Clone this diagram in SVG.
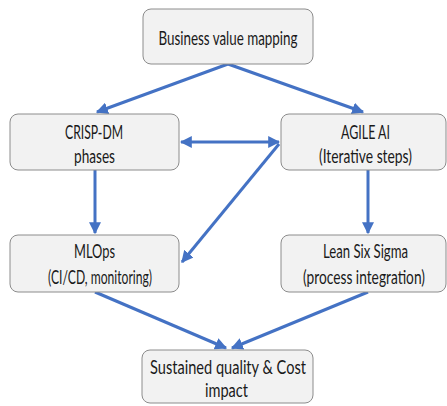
<svg xmlns="http://www.w3.org/2000/svg" width="447" height="406" viewBox="0 0 447 406">
  <defs>
    <marker id="ah" viewBox="0 0 10 10" refX="9" refY="5" markerWidth="4" markerHeight="4" orient="auto-start-reverse" markerUnits="strokeWidth">
      <path d="M0,0 L10,5 L0,10 z" fill="#4472C4"/>
    </marker>
    <style>
      .box { fill: #f2f2f2; stroke: #8c8c8c; stroke-width: 1; }
      .lbl { font-family: Lato, "Liberation Sans", sans-serif; font-size: 18.5px; fill: #1a1a1a; text-anchor: middle; }
      .edge { stroke: #4472C4; stroke-width: 3; fill: none; }
    </style>
  </defs>
  <rect width="447" height="406" fill="#ffffff"/>

  <g id="connectors">
    <path class="edge" d="M228,64 L97,112" marker-end="url(#ah)"/>
    <path class="edge" d="M228,64 L363,112" marker-end="url(#ah)"/>
    <path class="edge" d="M95,170 L95,233" marker-end="url(#ah)"/>
    <path class="edge" d="M368,170 L368,233" marker-end="url(#ah)"/>
    <path class="edge" d="M181,142 L279,142" marker-start="url(#ah)" marker-end="url(#ah)"/>
    <path class="edge" d="M279,144 L182,262" marker-end="url(#ah)"/>
    <path class="edge" d="M95,292 L226,348" marker-end="url(#ah)"/>
    <path class="edge" d="M368,292 L232,348" marker-end="url(#ah)"/>
  </g>

  <g id="business-value">
    <rect class="box" x="143" y="9" width="170" height="55" rx="8"/>
    <text class="lbl" x="228" y="45" textLength="139" lengthAdjust="spacingAndGlyphs">Business value mapping</text>
  </g>
  <g id="crisp-dm">
    <rect class="box" x="10" y="114" width="169" height="56" rx="8"/>
    <text class="lbl" x="94" y="139" textLength="58" lengthAdjust="spacingAndGlyphs">CRISP-DM</text>
    <text class="lbl" x="94.5" y="163" textLength="41" lengthAdjust="spacingAndGlyphs">phases</text>
  </g>
  <g id="agile-ai">
    <rect class="box" x="281" y="114" width="165" height="56" rx="8"/>
    <text class="lbl" x="365.5" y="139" textLength="49" lengthAdjust="spacingAndGlyphs">AGILE AI</text>
    <text class="lbl" x="365.5" y="163" textLength="93" lengthAdjust="spacingAndGlyphs">(Iterative steps)</text>
  </g>
  <g id="mlops">
    <rect class="box" x="10" y="235" width="169" height="57" rx="8"/>
    <text class="lbl" x="94.5" y="258" textLength="41" lengthAdjust="spacingAndGlyphs">MLOps</text>
    <text class="lbl" x="100" y="284" textLength="104" lengthAdjust="spacingAndGlyphs">(CI/CD, monitoring)</text>
  </g>
  <g id="lean-six-sigma">
    <rect class="box" x="281" y="235" width="165" height="57" rx="8"/>
    <text class="lbl" x="365.5" y="258" textLength="85" lengthAdjust="spacingAndGlyphs">Lean Six Sigma</text>
    <text class="lbl" x="364" y="284" textLength="122" lengthAdjust="spacingAndGlyphs">(process integration)</text>
  </g>
  <g id="sustained-quality">
    <rect class="box" x="142" y="350" width="171" height="53" rx="8"/>
    <text class="lbl" x="228" y="374" textLength="156" lengthAdjust="spacingAndGlyphs">Sustained quality &amp; Cost</text>
    <text class="lbl" x="226.5" y="397" textLength="43" lengthAdjust="spacingAndGlyphs">impact</text>
  </g>
</svg>
